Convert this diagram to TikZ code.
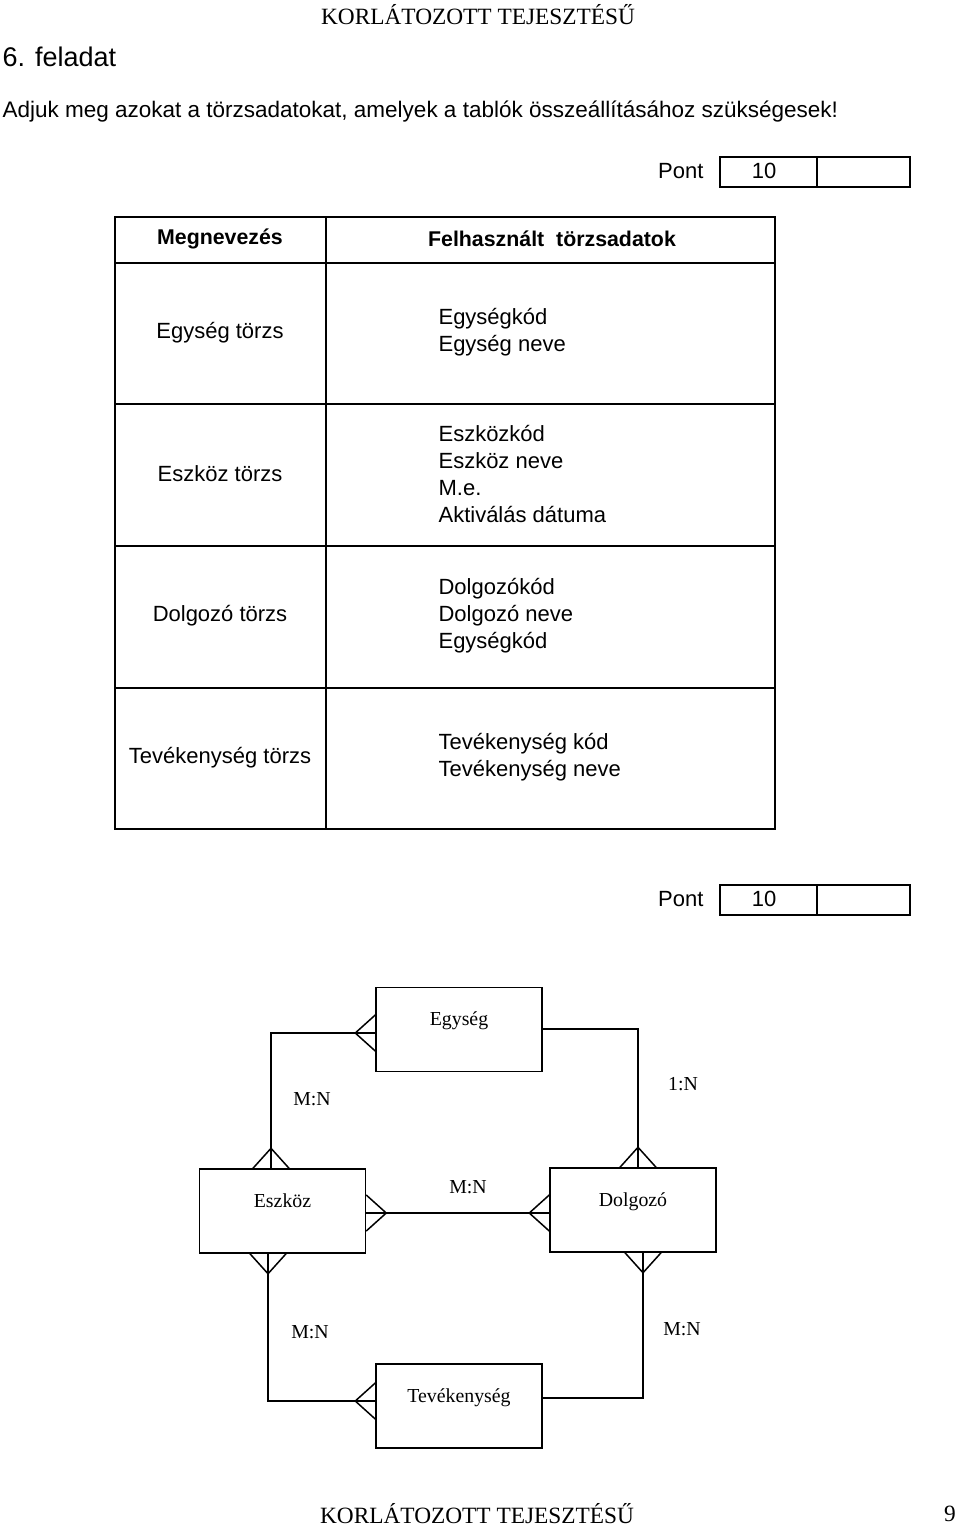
\documentclass[tikz,border=0pt]{standalone}
\usepackage{fontspec}
\setmainfont{Liberation Serif}
\setsansfont{Liberation Sans}
\usetikzlibrary{positioning, calc}

\begin{document}
\begin{tikzpicture}[x=0.6pt, y=-0.6pt, line width=0.7pt,
    entity/.style={draw, line width=0.9pt, minimum width=99.6pt, minimum height=50.4pt, inner sep=0pt,
      font=\fontsize{11.9}{14}\selectfont, text height=8pt, text depth=12.8pt},
    card/.style={font=\fontsize{11.9}{14}\selectfont, inner sep=0pt},
    cell/.style={font=\sffamily\fontsize{13.2}{16.2}\selectfont, inner sep=0pt},
    head/.style={font=\sffamily\bfseries\fontsize{12.8}{15}\selectfont, inner sep=0pt},
    crow/.pic={\draw[line width=0.9pt] (0,-18) -- (20,0) -- (0,18);}]
    \useasboundingbox (0,0) rectangle (960,1528);
    % page header and task
    \node[font=\fontsize{14}{16}\selectfont, inner sep=0pt] (fejlec) at (478,15) {KORLÁTOZOTT TEJESZTÉSŰ};
    \node[anchor=west, font=\sffamily\fontsize{16.2}{20}\selectfont, inner sep=0pt] (feladat) at (2,57) {6. feladat};
    \node[anchor=west, font=\sffamily\fontsize{13.5}{16}\selectfont, inner sep=0pt] (kerdes) at (2,112)
      {Adjuk meg azokat a törzsadatokat, amelyek a tablók összeállításához szükségesek!};
    \foreach \y/\n in {157/1, 885/2}{
      \draw[line width=1.2pt] (720,\y) rectangle (910,\y+30);
      \draw[line width=1.2pt] (817,\y) -- (817,\y+30);
      \node[cell, anchor=east] (pont\n) at (704,\y+14) {Pont};
      \node[cell] (pontszam\n) at (764,\y+14) {10};
    }
    % table
    \draw (115,217) rectangle (775,829);
    \draw (326,217) -- (326,829);
    \foreach \y in {263,404,546,688}{\draw (115,\y) -- (775,\y);}
    \node[head] (megnev) at (220,239) {Megnevezés};
    \node[head] (felhasz) at (552,239) {Felhasznált\ \ törzsadatok};
    \node[cell] (egyT) at (220,333) {Egység törzs};
    \node[cell, anchor=west, align=left] (egyD) at (438,332) {Egységkód\\Egység neve};
    \node[cell] (eszT) at (220,474) {Eszköz törzs};
    \node[cell, anchor=west, align=left] (eszD) at (438,474) {Eszközkód\\Eszköz neve\\M.e.\\Aktiválás dátuma};
    \node[cell] (dolT) at (220,616) {Dolgozó törzs};
    \node[cell, anchor=west, align=left] (dolD) at (438,616) {Dolgozókód\\Dolgozó neve\\Egységkód};
    \node[cell] (tevT) at (220,758) {Tevékenység törzs};
    \node[cell, anchor=west, align=left] (tevD) at (438,757) {Tevékenység kód\\Tevékenység neve};
    % entities
    \node[entity] (egyseg) at (459,1029.5) {Egység};
    \node[entity] (eszkoz) at (282.5,1211) {Eszköz};
    \node[entity] (dolgozo) at (633,1210) {Dolgozó};
    \node[entity] (tevek) at (459,1406) {Tevékenység};
    \coordinate (egyW) at ($(egyseg.west)+(0,3.5)$);
    \coordinate (egyE) at ($(egyseg.east)+(0,-0.5)$);
    \coordinate (eszN) at ($(eszkoz.north)+(-11.5,0)$);
    \coordinate (eszE) at ($(eszkoz.east)+(0,2)$);
    \coordinate (eszS) at ($(eszkoz.south)+(-14.5,0)$);
    \coordinate (dolN) at ($(dolgozo.north)+(5,0)$);
    \coordinate (dolW) at ($(dolgozo.west)+(0,3)$);
    \coordinate (dolS) at ($(dolgozo.south)+(10,0)$);
    \coordinate (tevW) at ($(tevek.west)+(0,-5)$);
    \coordinate (tevE) at ($(tevek.east)+(0,-8)$);
    % relationships
    \begin{scope}[line width=0.9pt]
      \draw (egyW) -| (eszN);
      \draw (egyE) -| (dolN);
      \draw (eszE) -- (dolW);
      \draw (eszS) |- (tevW);
      \draw (dolS) |- (tevE);
    \end{scope}
    \pic[rotate=180] at (egyW) {crow};
    \pic[rotate=90] at (eszN) {crow};
    \pic[rotate=90] at (dolN) {crow};
    \pic at (eszE) {crow};
    \pic[rotate=180] at (dolW) {crow};
    \pic[rotate=-90] at (eszS) {crow};
    \pic[rotate=-90] at (dolS) {crow};
    \pic[rotate=180] at (tevW) {crow};
    \node[card] (kEgyEsz) at (312,1099) {M:N};
    \node[card] (kEgyDol) at (683,1084) {1:N};
    \node[card] (kEszDol) at (468,1187) {M:N};
    \node[card] (kEszTev) at (310,1332) {M:N};
    \node[card] (kDolTev) at (682,1329) {M:N};
    % footer
    \node[font=\fontsize{14}{16}\selectfont, inner sep=0pt] (lablec) at (477,1514) {KORLÁTOZOTT TEJESZTÉSŰ};
    \node[font=\fontsize{14}{16}\selectfont, inner sep=0pt] (oldal) at (950,1514) {9};
\end{tikzpicture}
\end{document}
